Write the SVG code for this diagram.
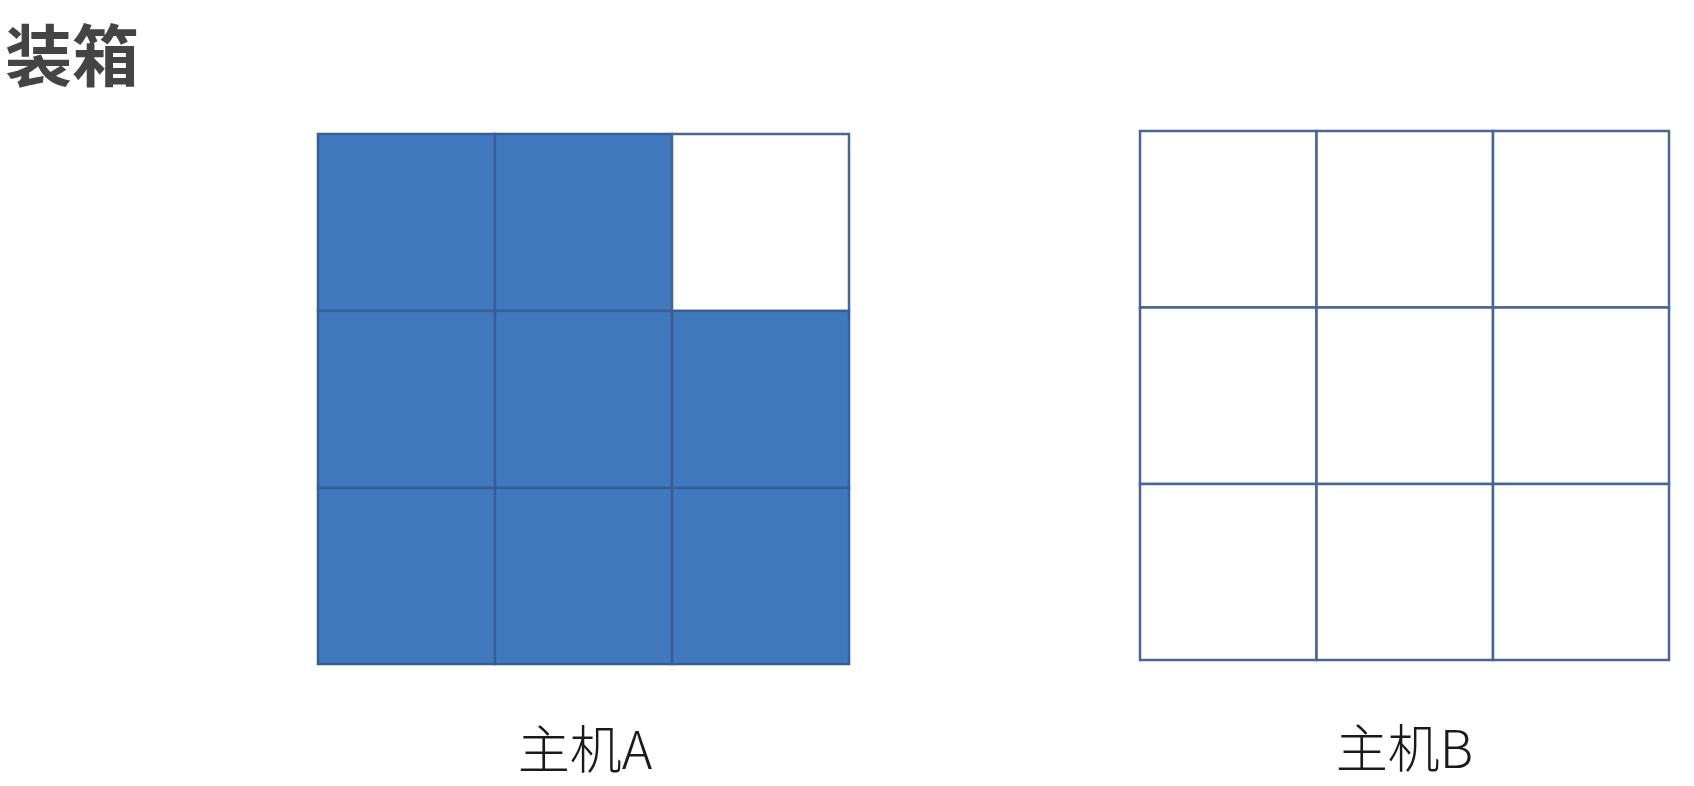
<svg xmlns="http://www.w3.org/2000/svg" width="1694" height="786" viewBox="0 0 1694 786">
  <style>
    .title { font-family: "Noto Sans CJK SC", "Liberation Sans", sans-serif; font-weight: 700; font-size: 67px; fill: #444444; }
    .label { font-family: "Noto Sans CJK SC", "Liberation Sans", sans-serif; font-weight: 300; font-size: 52px; fill: #1a1a1a; text-anchor: middle; }
    .full { fill: #4279be; stroke: #355f96; stroke-width: 2.5; }
    .empty { fill: #ffffff; stroke: #4a6591; stroke-width: 2.5; }
  </style>
  <rect width="1694" height="786" fill="#ffffff"/>
  <text class="title" x="5" y="81">装箱</text>
  <g id="hostA">
    <rect class="full" x="318" y="134" width="177" height="177"/>
    <rect class="full" x="495" y="134" width="177" height="177"/>
    <rect class="empty" x="672" y="134" width="177" height="177"/>
    <rect class="full" x="318" y="311" width="177" height="177"/>
    <rect class="full" x="495" y="311" width="177" height="177"/>
    <rect class="full" x="672" y="311" width="177" height="177"/>
    <rect class="full" x="318" y="488" width="177" height="176"/>
    <rect class="full" x="495" y="488" width="177" height="176"/>
    <rect class="full" x="672" y="488" width="177" height="176"/>
    <text class="label" x="585" y="769">主机A</text>
  </g>
  <g id="hostB">
    <rect class="empty" x="1140" y="131" width="176.5" height="176.5"/>
    <rect class="empty" x="1316.5" y="131" width="176.5" height="176.5"/>
    <rect class="empty" x="1493" y="131" width="176" height="176.5"/>
    <rect class="empty" x="1140" y="307.5" width="176.5" height="176.5"/>
    <rect class="empty" x="1316.5" y="307.5" width="176.5" height="176.5"/>
    <rect class="empty" x="1493" y="307.5" width="176" height="176.5"/>
    <rect class="empty" x="1140" y="484" width="176.5" height="176"/>
    <rect class="empty" x="1316.5" y="484" width="176.5" height="176"/>
    <rect class="empty" x="1493" y="484" width="176" height="176"/>
    <text class="label" x="1404.5" y="768">主机B</text>
  </g>
</svg>
